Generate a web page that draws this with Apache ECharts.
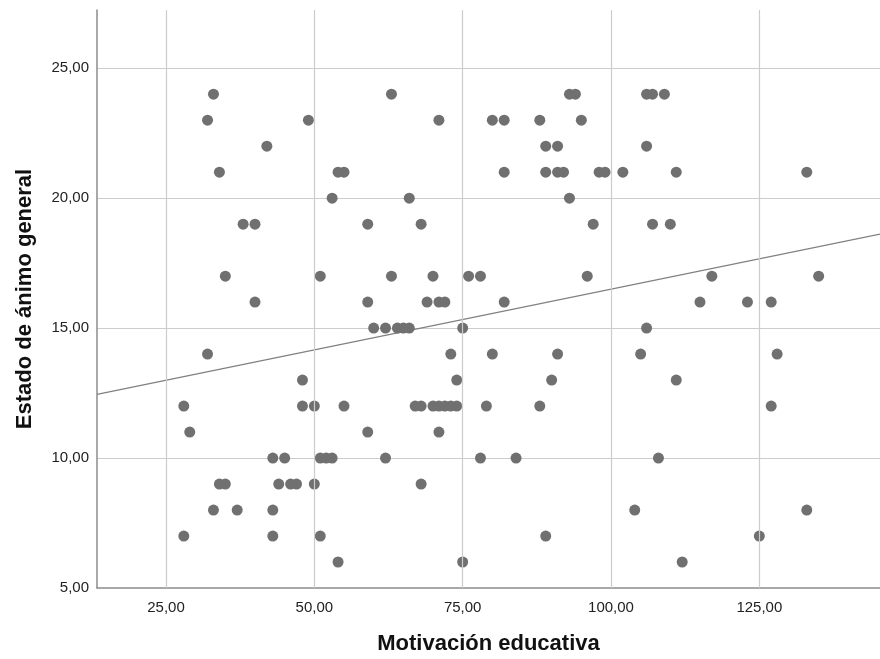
<!DOCTYPE html>
<html>
<head>
<meta charset="utf-8">
<script src="https://cdn.jsdelivr.net/npm/echarts@6/dist/echarts.min.js"></script>
<style>
html,body{margin:0;padding:0;background:#fff;}
#main{width:880px;height:659px;}
</style>
</head>
<body>
<div id="main"></div>
<script>
// Estado de ánimo general levels (y) and Motivación educativa values (x) observed at each level
const animoLevels = [24, 23, 22, 21, 20, 19, 17, 16, 15, 14, 13, 12, 11, 10, 9, 8, 7, 6];
const motivacionAtLevel = [
  [33, 63, 93, 94, 106, 107, 109],
  [32, 49, 71, 80, 82, 88, 95],
  [42, 89, 91, 106],
  [34, 54, 55, 82, 89, 91, 92, 98, 99, 102, 111, 133],
  [53, 66, 93],
  [38, 40, 59, 68, 97, 107, 110],
  [35, 51, 63, 70, 76, 78, 96, 117, 135],
  [40, 59, 69, 71, 72, 82, 115, 123, 127],
  [60, 62, 64, 65, 66, 75, 106],
  [32, 73, 80, 91, 105, 128],
  [48, 74, 90, 111],
  [28, 48, 50, 55, 67, 68, 70, 71, 72, 73, 74, 79, 88, 127],
  [29, 59, 71],
  [43, 45, 51, 52, 53, 62, 78, 84, 108],
  [34, 35, 44, 46, 47, 50, 68],
  [33, 37, 43, 104, 133],
  [28, 43, 51, 89, 125],
  [54, 75, 112]
];
// Fit line endpoints
const fitX = [13.37, 145.34];
const fitY = [12.45, 18.62];
const xTicks = [25, 50, 75, 100, 125];
const yTicks = [5, 10, 15, 20, 25];

const points = [];
animoLevels.forEach((lv, i) => {
  motivacionAtLevel[i].forEach(x => points.push([x, lv]));
});
const fitData = fitX.map((x, i) => [x, fitY[i]]);

const fmt = v => Number(v).toFixed(2).replace('.', ',');
const font = 'Arial, "Liberation Sans", sans-serif';
const gridColor = '#cccccc';

const chart = echarts.init(document.getElementById('main'));
chart.setOption({
  animation: false,
  backgroundColor: '#ffffff',
  grid: { left: 97, right: 0, top: 10, bottom: 71, containLabel: false, outerBoundsMode: 'none' },
  xAxis: {
    type: 'value',
    min: fitX[0], max: fitX[1],
    name: 'Motivación educativa',
    nameLocation: 'middle',
    nameGap: 45,
    nameTextStyle: { fontFamily: font, fontSize: 22, fontWeight: 'bold', color: '#111' },
    axisLine: { show: true, onZero: false, lineStyle: { color: '#8c8c8c', width: 1.5 } },
    axisTick: { show: false },
    axisLabel: { show: false },
    splitLine: { show: false }
  },
  yAxis: {
    type: 'value',
    min: 5, max: 27.24,
    interval: 5,
    name: 'Estado de ánimo general',
    nameLocation: 'middle',
    nameGap: 61,
    nameTextStyle: { fontFamily: font, fontSize: 22, fontWeight: 'bold', color: '#111' },
    axisLine: { show: true, onZero: false, lineStyle: { color: '#8c8c8c', width: 1.5 } },
    axisTick: { show: false },
    axisLabel: {
      fontFamily: font, fontSize: 15, color: '#222', margin: 8,
      showMaxLabel: false,
      formatter: v => (yTicks.some(t => Math.abs(t - v) < 1e-6) ? fmt(v) : '')
    },
    splitLine: { show: true, showMinLine: false, showMaxLine: false, lineStyle: { color: gridColor, width: 1.2 } }
  },
  series: [
    {
      type: 'line',
      data: fitData,
      symbol: 'none',
      lineStyle: { color: '#808080', width: 1.2 },
      z: 3,
      silent: true,
      markLine: {
        silent: true,
        symbol: ['none', 'none'],
        animation: false,
        lineStyle: { color: gridColor, width: 1.2, type: 'solid' },
        label: {
          show: true,
          position: 'start',
          distance: 12,
          fontFamily: font, fontSize: 15, color: '#222',
          formatter: p => fmt(p.value)
        },
        emphasis: { disabled: true },
        data: xTicks.map(t => ({ xAxis: t }))
      }
    },
    {
      type: 'scatter',
      data: points,
      symbol: 'circle',
      symbolSize: 11,
      itemStyle: { color: '#707070', opacity: 1 },
      z: 4
    }
  ]
});
</script>
</body>
</html>
